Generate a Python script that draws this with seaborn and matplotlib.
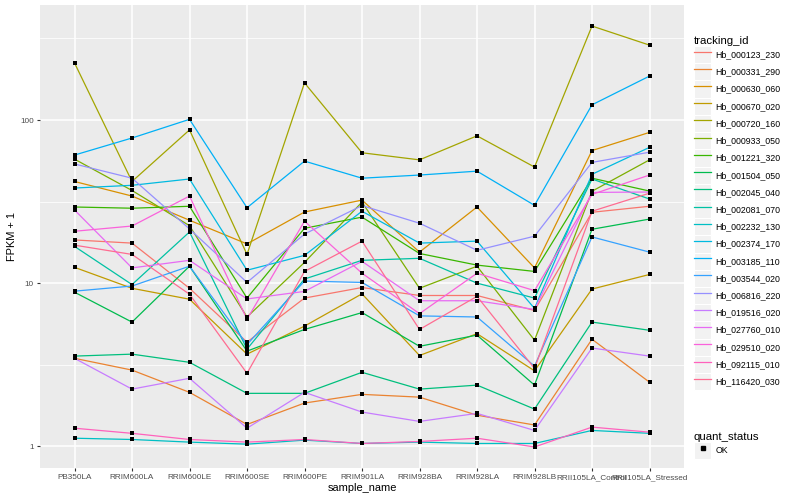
import matplotlib
matplotlib.use("Agg")
import matplotlib.pyplot as plt
import seaborn as sns
import numpy as np
import pandas as pd
from matplotlib.lines import Line2D
from matplotlib.patches import Patch
from matplotlib.legend_handler import HandlerTuple
from matplotlib.ticker import FixedLocator, NullFormatter, NullLocator

samples = ["PB350LA", "RRIM600LA", "RRIM600LE", "RRIM600SE", "RRIM600PE", "RRIM901LA",
           "RRIM928BA", "RRIM928LA", "RRIM928LB", "RRII105LA_Control", "RRII105LA_Stressed"]

tracking_ids = ["Hb_000123_230", "Hb_000331_290", "Hb_000630_060", "Hb_000670_020",
                "Hb_000720_160", "Hb_000933_050", "Hb_001221_320", "Hb_001504_050",
                "Hb_002045_040", "Hb_002081_070", "Hb_002232_130", "Hb_002374_170",
                "Hb_003185_110", "Hb_003544_020", "Hb_006816_220", "Hb_019516_020",
                "Hb_027760_010", "Hb_029510_020", "Hb_092115_010", "Hb_116420_030"]

# FPKM + 1 per sample
hb_000123_230 = [18.4, 17.6, 9.3, 4.35, 8.1, 9.4, 8.4, 8.4, 6.8, 27.2, 29.6]
hb_000331_290 = [3.46, 2.93, 2.14, 1.36, 1.84, 2.08, 2.0, 1.55, 1.35, 4.53, 2.47]
hb_000630_060 = [42, 34.2, 24.3, 17.4, 27.3, 32.3, 15.5, 29.3, 12.4, 65, 84]
hb_000670_020 = [12.5, 9.3, 7.97, 3.67, 5.45, 8.6, 3.6, 4.9, 2.9, 9.2, 11.3]
hb_000720_160 = [224, 42, 87, 15, 169, 63, 57, 80, 51.5, 377, 288]
hb_000933_050 = [57.6, 37, 22.5, 6.2, 13.4, 31.4, 9.3, 12.7, 4.47, 36.6, 57]
hb_001221_320 = [29.3, 28.8, 29.6, 8.1, 21.7, 25.4, 15.2, 12.9, 11.8, 44, 36.7]
hb_001504_050 = [8.8, 5.77, 12.7, 3.83, 5.2, 6.6, 4.1, 4.8, 2.37, 21.4, 24.7]
hb_002045_040 = [3.57, 3.67, 3.27, 2.11, 2.11, 2.84, 2.24, 2.37, 1.69, 5.77, 5.14]
hb_002081_070 = [16.8, 9.8, 20.6, 3.94, 10.6, 13.8, 14.2, 10, 8.1, 43.5, 32.8]
hb_002232_130 = [1.12, 1.1, 1.06, 1.03, 1.09, 1.04, 1.06, 1.04, 1.04, 1.25, 1.2]
hb_002374_170 = [38.3, 39.8, 43.5, 12, 14.8, 27.6, 17.6, 18.1, 7.0, 46.5, 68]
hb_003185_110 = [61, 77.6, 101, 29, 56, 44, 46, 48.6, 30, 124, 186]
hb_003544_020 = [8.93, 9.6, 12.7, 4.2, 10.3, 10.1, 6.3, 6.2, 3.1, 19.2, 15.5]
hb_006816_220 = [53.8, 44, 21.5, 10.1, 20, 29.9, 23.3, 15.9, 19.4, 55, 63.5]
hb_019516_020 = [3.46, 2.24, 2.61, 1.29, 2.14, 1.62, 1.42, 1.59, 1.25, 4.0, 3.57]
hb_027760_010 = [28.1, 12.4, 13.8, 8.0, 8.9, 13.6, 7.8, 7.8, 6.9, 36, 36.2]
hb_029510_020 = [20.8, 22.4, 34.2, 6.0, 24, 11.5, 6.5, 11.5, 9.0, 35, 46]
hb_092115_010 = [1.29, 1.2, 1.1, 1.06, 1.1, 1.04, 1.07, 1.12, 0.99, 1.31, 1.22]
hb_116420_030 = [17.1, 15, 8.55, 2.8, 11.8, 18.1, 5.2, 8.3, 3.0, 27.6, 35.6]

series = [hb_000123_230, hb_000331_290, hb_000630_060, hb_000670_020, hb_000720_160,
          hb_000933_050, hb_001221_320, hb_001504_050, hb_002045_040, hb_002081_070,
          hb_002232_130, hb_002374_170, hb_003185_110, hb_003544_020, hb_006816_220,
          hb_019516_020, hb_027760_010, hb_029510_020, hb_092115_010, hb_116420_030]

# ggplot default hue palette for 20 groups
colors = ["#F8766D", "#EA8331", "#D89000", "#C09B00", "#A3A500", "#7CAE00", "#39B600",
          "#00BB4E", "#00BF7D", "#00C1A3", "#00BFC4", "#00BAE0", "#00B0F6", "#35A2FF",
          "#9590FF", "#C77CFF", "#E76BF3", "#FA62DB", "#FF62BC", "#FF6C91"]

rows = []
for tid, vals in zip(tracking_ids, series):
    for s, v in zip(samples, vals):
        rows.append({"tracking_id": tid, "sample_name": s, "fpkm1": v})
df = pd.DataFrame(rows)
df["pos"] = pd.Categorical(df["sample_name"], categories=samples, ordered=True).codes

plt.rcParams["font.family"] = ["Liberation Sans", "DejaVu Sans"]

fig, ax = plt.subplots(figsize=(8, 5), dpi=100)
fig.subplots_adjust(left=40 / 800, right=684 / 800, top=1 - 5 / 500, bottom=1 - 468 / 500)

sns.lineplot(data=df, x="pos", y="fpkm1", hue="tracking_id", hue_order=tracking_ids,
             palette=dict(zip(tracking_ids, colors)), estimator=None, linewidth=0.9,
             legend=False, ax=ax)
sns.scatterplot(data=df, x="pos", y="fpkm1", color="black", marker="s", s=9,
                linewidth=0, legend=False, ax=ax, zorder=3)

ax.set_yscale("log")
lo = np.log10(df["fpkm1"].min())
hi = np.log10(df["fpkm1"].max())
pad = (hi - lo) * 0.05
ax.set_ylim(10 ** (lo - pad), 10 ** (hi + pad))
ax.set_xlim(-0.6, len(samples) - 1 + 0.6)

ax.set_yticks([1, 10, 100])
ax.set_yticklabels(["1", "10", "100"])
ax.yaxis.set_minor_locator(FixedLocator([10 ** 0.5, 10 ** 1.5, 10 ** 2.5]))
ax.yaxis.set_minor_formatter(NullFormatter())
ax.set_xticks(range(len(samples)))
ax.set_xticklabels(samples)
ax.xaxis.set_minor_locator(NullLocator())

ax.set_facecolor("#EBEBEB")
ax.set_axisbelow(True)
ax.grid(which="major", color="white", linewidth=1.1)
ax.grid(which="minor", axis="y", color="white", linewidth=0.55)
for sp in ax.spines.values():
    sp.set_visible(False)
ax.tick_params(which="major", length=2.5, width=0.8, color="#333333",
               labelsize=5.9, labelcolor="#4D4D4D", pad=2)
ax.tick_params(which="minor", length=0)

ax.set_xlabel("sample_name", fontsize=7.9, labelpad=1)
ax.set_ylabel("FPKM + 1", fontsize=7.9, labelpad=2)

# legends
key_bg = "#F2F2F2"
handles = [(Patch(facecolor=key_bg, edgecolor="white", linewidth=0.8),
            Line2D([], [], color=c, linewidth=0.9)) for c in colors]
leg1 = fig.legend(handles, tracking_ids, title="tracking_id", loc="upper left",
                  bbox_to_anchor=(694 / 800, 1 - 36 / 500), frameon=False,
                  fontsize=6.3, title_fontsize=8.2, handlelength=1.97, handleheight=2.65,
                  labelspacing=0, handletextpad=0.5, borderaxespad=0, borderpad=0,
                  alignment="left", handler_map={tuple: HandlerTuple(ndivide=1)})

h2 = [(Patch(facecolor=key_bg, edgecolor="white", linewidth=0.8),
       Line2D([], [], color="black", marker="s", markersize=2.8, linestyle="none"))]
leg2 = fig.legend(h2, ["OK"], title="quant_status", loc="upper left",
                  bbox_to_anchor=(694 / 800, 1 - 432 / 500), frameon=False,
                  fontsize=6.3, title_fontsize=8.2, handlelength=1.97, handleheight=2.65,
                  labelspacing=0, handletextpad=0.5, borderaxespad=0, borderpad=0,
                  alignment="left", handler_map={tuple: HandlerTuple(ndivide=1)})

fig.savefig("out.png", dpi=100)
